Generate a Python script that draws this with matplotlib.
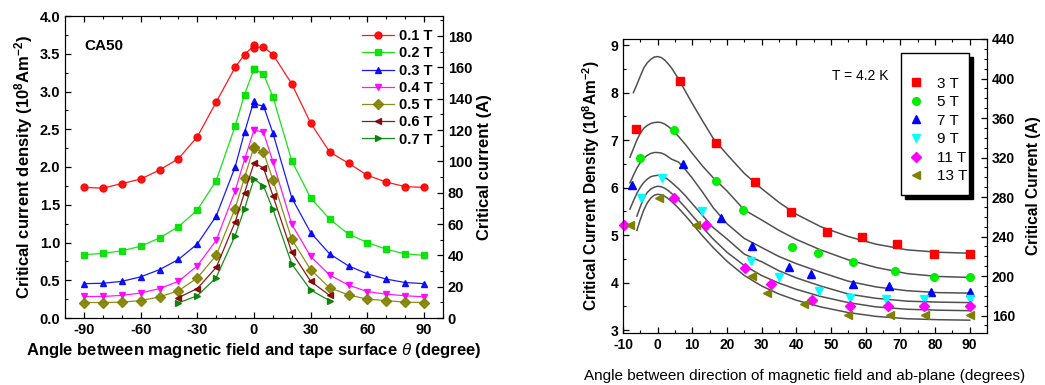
import numpy as np
import matplotlib
matplotlib.use('Agg')
import matplotlib.pyplot as plt
from matplotlib.ticker import MultipleLocator
from matplotlib.patches import Rectangle

plt.rcParams['font.family'] = ['Liberation Sans', 'DejaVu Sans']
plt.rcParams['mathtext.fontset'] = 'custom'
plt.rcParams['mathtext.rm'] = 'Liberation Sans'
plt.rcParams['mathtext.it'] = 'Liberation Sans:italic'
plt.rcParams['mathtext.bf'] = 'Liberation Sans:bold'
plt.rcParams['axes.unicode_minus'] = False

# ---- left panel: CA50 tape, Jc vs angle ----
ang = [-90, -80, -70, -60, -50, -40, -30, -20, -10, -5, 0, 0, 5, 10, 20, 30, 40, 50, 60, 70, 80, 90]
ang_short = [-40, -30, -20, -10, -5, 0, 5, 10, 20, 30, 40]
jc_01 = [1.73, 1.72, 1.78, 1.84, 1.96, 2.11, 2.40, 2.86, 3.32, 3.49, 3.61, 3.58, 3.59, 3.49, 3.10, 2.58, 2.20, 2.05, 1.89, 1.80, 1.74, 1.73]
jc_02 = [0.84, 0.855, 0.89, 0.95, 1.06, 1.21, 1.43, 1.82, 2.54, 2.96, 3.30, 3.30, 3.23, 2.93, 2.08, 1.59, 1.31, 1.11, 1.00, 0.91, 0.85, 0.83]
jc_03 = [0.455, 0.46, 0.485, 0.545, 0.64, 0.775, 0.98, 1.35, 2.00, 2.46, 2.88, 2.83, 2.81, 2.45, 1.59, 1.13, 0.85, 0.69, 0.585, 0.515, 0.47, 0.455]
jc_04 = [0.285, 0.285, 0.30, 0.33, 0.39, 0.485, 0.69, 1.03, 1.68, 2.10, 2.49, 2.49, 2.46, 2.07, 1.24, 0.815, 0.57, 0.435, 0.35, 0.315, 0.295, 0.28]
jc_05 = [0.205, 0.205, 0.21, 0.23, 0.28, 0.36, 0.53, 0.83, 1.45, 1.86, 2.27, 2.25, 2.20, 1.83, 1.04, 0.64, 0.40, 0.305, 0.25, 0.23, 0.21, 0.205]
jc_06 = [0.27, 0.39, 0.67, 1.27, 1.66, 2.05, 1.99, 1.62, 0.87, 0.485, 0.30]
jc_07 = [0.20, 0.295, 0.535, 1.09, 1.45, 1.84, 1.75, 1.44, 0.715, 0.37, 0.23]
left_labels = ['0.1 T', '0.2 T', '0.3 T', '0.4 T', '0.5 T', '0.6 T', '0.7 T']
left_colors = ['#ff0000', '#00e000', '#0000ff', '#ff00ff', '#808000', '#800000', '#008000']
left_markers = ['o', 's', '^', 'v', 'D', '<', '>']
amp_per_jc_left = 48.2

# ---- right panel: measured points ----
x_3T = [-6.2, 6.4, 16.9, 28.2, 38.4, 48.9, 58.8, 68.9, 79.8, 90]
y_3T = [7.23, 8.24, 6.93, 6.12, 5.48, 5.06, 4.97, 4.82, 4.61, 4.61]
x_5T = [-5.2, 4.6, 16.9, 24.7, 38.7, 46.2, 56.3, 68.6, 79.6, 90]
y_5T = [6.63, 7.21, 6.14, 5.54, 4.75, 4.63, 4.43, 4.25, 4.12, 4.12]
x_7T = [-7.3, 7.2, 18.2, 27.1, 38.0, 44.1, 56.3, 66.6, 78.8, 90]
y_7T = [6.05, 6.50, 5.37, 4.78, 4.33, 4.19, 3.98, 3.94, 3.81, 3.81]
x_9T = [-4.9, 1.2, 12.8, 26.8, 35.1, 46.4, 55.4, 66.0, 76.9, 90]
y_9T = [5.79, 6.20, 5.50, 4.46, 4.11, 3.83, 3.68, 3.65, 3.65, 3.65]
x_11T = [-9.7, 4.6, 14.0, 25.1, 32.7, 44.4, 55.6, 66.4, 76.9, 90]
y_11T = [5.22, 5.79, 5.21, 4.31, 3.98, 3.64, 3.51, 3.51, 3.51, 3.51]
x_13T = [-8.1, 0.4, 11.2, 27.3, 31.5, 42.3, 55.0, 66.9, 77.2, 90]
y_13T = [5.22, 5.78, 5.22, 4.13, 3.79, 3.55, 3.32, 3.32, 3.32, 3.32]
right_labels = ['3 T', '5 T', '7 T', '9 T', '11 T', '13 T']
right_colors = ['#ff0000', '#00ee00', '#0000ff', '#00ffff', '#ff00ff', '#808000']
right_markers = ['s', 'o', '^', 'v', 'D', '<']

# ---- right panel: fitted curves ----
fit_x = [-8, -7, -6, -5, -4, -3, -2, -1, 0, 1, 2, 3, 4, 6, 8, 10, 13, 16, 20, 25, 30, 35, 40, 47, 55, 63, 72, 81, 90]
nan = np.nan
fit_3T = [nan, 8.00, 8.17, 8.35, 8.52, 8.63, 8.70, 8.75, 8.76, 8.74, 8.69, 8.61, 8.52, 8.29, 8.03, 7.77, 7.40, 7.04, 6.70, 6.30, 5.98, 5.69, 5.44, 5.18, 4.97, 4.81, 4.69, 4.64, 4.62]
fit_5T = [6.64, 6.82, 7.00, 7.15, 7.25, 7.31, 7.35, 7.37, 7.38, 7.37, 7.34, 7.29, 7.23, 7.08, 6.91, 6.72, 6.45, 6.21, 5.93, 5.53, 5.32, 5.10, 4.91, 4.69, 4.48, 4.32, 4.19, 4.13, 4.11]
fit_7T = [6.10, 6.26, 6.41, 6.53, 6.62, 6.68, 6.72, 6.74, 6.74, 6.73, 6.70, 6.65, 6.60, 6.54, 6.38, 6.20, 5.90, 5.58, 5.24, 4.93, 4.74, 4.55, 4.40, 4.22, 4.03, 3.91, 3.83, 3.79, 3.78]
fit_9T = [5.55, 5.72, 5.88, 6.01, 6.11, 6.18, 6.23, 6.25, 6.26, 6.25, 6.22, 6.17, 6.11, 5.98, 5.83, 5.66, 5.41, 5.16, 4.92, 4.60, 4.44, 4.25, 4.10, 3.93, 3.76, 3.67, 3.61, 3.59, 3.58]
fit_11T = [nan, nan, 5.40, 5.60, 5.78, 5.90, 5.97, 6.01, 6.03, 6.02, 5.99, 5.94, 5.88, 5.74, 5.58, 5.41, 5.16, 4.92, 4.64, 4.36, 4.15, 3.99, 3.86, 3.71, 3.58, 3.49, 3.44, 3.42, 3.41]
fit_13T = [nan, nan, 5.10, 5.33, 5.53, 5.68, 5.78, 5.84, 5.86, 5.85, 5.82, 5.77, 5.71, 5.57, 5.41, 5.24, 4.98, 4.74, 4.45, 4.15, 3.93, 3.76, 3.63, 3.49, 3.37, 3.29, 3.24, 3.22, 3.21]

W, H = 1045, 385
fig = plt.figure(figsize=(W / 100, H / 100), dpi=100)


def px_axes(l, t, r, b):
    return fig.add_axes([l / W, 1 - b / H, (r - l) / W, (b - t) / H])


# ================= left chart =================
ax1 = px_axes(65, 16, 443, 318)
left_series = [(ang, jc_01), (ang, jc_02), (ang, jc_03), (ang, jc_04), (ang, jc_05),
               (ang_short, jc_06), (ang_short, jc_07)]
for (xs, ys), lab, c, m in zip(left_series, left_labels, left_colors, left_markers):
    ax1.plot(xs, ys, color=c, lw=0.9, marker=m, ms=5, mec=c, mfc=c, label=lab, alpha=0.9)

ax1.set_xlim(-100, 100)
ax1.set_ylim(0, 4.0)
ax1.xaxis.set_major_locator(MultipleLocator(30))
ax1.xaxis.set_minor_locator(MultipleLocator(10))
ax1.yaxis.set_minor_locator(MultipleLocator(0.25))
ax1.set_yticks(np.arange(0, 4.01, 0.5))
ax1.set_yticklabels(['%.1f' % v for v in np.arange(0, 4.01, 0.5)])
ax1.tick_params(which='both', direction='in', top=True, right=False, labelsize=10.5)
ax1.tick_params(which='major', length=4, width=0.9)
ax1.tick_params(which='minor', length=2.5, width=0.8)
for lbl in ax1.get_xticklabels() + ax1.get_yticklabels():
    lbl.set_fontweight('bold')
ax1.set_xlabel(r'Angle between magnetic field and tape surface $\theta$ (degree)',
               fontsize=12, fontweight='bold', labelpad=3)
ax1.set_ylabel(r'Critical current density (10$^{\mathbf{8}}$Am$^{\mathbf{-2}}$)',
               fontsize=12, fontweight='bold', labelpad=3)
ax1.text(0.05, 0.90, 'CA50', transform=ax1.transAxes, fontsize=11, fontweight='bold',
         ha='left', va='center')
leg1 = ax1.legend(loc='upper right', frameon=False, fontsize=10.5, handlelength=2.2,
                  labelspacing=0.22, handletextpad=0.3, borderaxespad=0.2,
                  bbox_to_anchor=(0.995, 0.985))
for t in leg1.get_texts():
    t.set_fontweight('bold')

ax1r = ax1.twinx()
ax1r.set_ylim(0, 4.0 * amp_per_jc_left)
ax1r.yaxis.set_major_locator(MultipleLocator(20))
ax1r.yaxis.set_minor_locator(MultipleLocator(10))
ax1r.tick_params(which='both', direction='in', labelsize=10.5)
ax1r.tick_params(which='major', length=4, width=0.9)
ax1r.tick_params(which='minor', length=2.5, width=0.8)
for lbl in ax1r.get_yticklabels():
    lbl.set_fontweight('bold')
ax1r.set_ylabel('Critical current (A)', fontsize=12, fontweight='bold', labelpad=3)

# ================= right chart =================
ax2 = px_axes(623, 39, 987, 333)
fits = [fit_3T, fit_5T, fit_7T, fit_9T, fit_11T, fit_13T]
for f in fits:
    ax2.plot(fit_x, f, color='#505050', lw=1.1, zorder=2)
pts = [(x_3T, y_3T), (x_5T, y_5T), (x_7T, y_7T), (x_9T, y_9T), (x_11T, y_11T), (x_13T, y_13T)]
handles = []
for (xs, ys), lab, c, m in zip(pts, right_labels, right_colors, right_markers):
    ms = 5.5 if m != 'D' else 5
    h, = ax2.plot(xs, ys, ls='none', marker=m, ms=ms, color=c, mec=c, label=lab,
                  zorder=3, clip_on=False)
    handles.append(h)

ax2.set_xlim(-10, 95)
ax2.set_ylim(2.94, 9.13)
ax2.xaxis.set_major_locator(MultipleLocator(10))
ax2.xaxis.set_minor_locator(MultipleLocator(5))
ax2.yaxis.set_major_locator(MultipleLocator(1))
ax2.yaxis.set_minor_locator(MultipleLocator(0.5))
ax2.tick_params(which='both', direction='in', top=True, right=False, labelsize=10)
ax2.tick_params(which='major', length=4, width=0.9)
ax2.tick_params(which='minor', length=2.5, width=0.8)
for lbl in ax2.get_xticklabels() + ax2.get_yticklabels():
    lbl.set_fontweight('bold')
ax2.set_ylabel(r'Critical Current Density (10$^{\mathbf{8}}$Am$^{\mathbf{-2}}$)',
               fontsize=11.2, fontweight='bold', labelpad=6)
ax2.set_xlabel('Angle between direction of magnetic field and ab-plane (degrees)',
               fontsize=11, labelpad=12)
ax2.text(0.575, 0.875, 'T = 4.2 K', transform=ax2.transAxes, fontsize=10,
         ha='left', va='center')

# legend box with solid black drop shadow
bx0, bx1 = (901 - 623) / 364, (969 - 623) / 364
by0, by1 = (333 - 195) / 294, (333 - 53) / 294
ax2.add_patch(Rectangle((bx0 + 4 / 364, by0 - 4 / 294), bx1 - bx0, by1 - by0,
                        transform=ax2.transAxes, fc='black', ec='black', zorder=4, clip_on=False))
ax2.add_patch(Rectangle((bx0, by0), bx1 - bx0, by1 - by0, transform=ax2.transAxes,
                        fc='white', ec='black', lw=1, zorder=5, clip_on=False))
leg2 = ax2.legend(handles=handles, loc='upper left', frameon=False, fontsize=11,
                  bbox_to_anchor=(bx0 + 0.02, by1 - 0.08), labelspacing=0.3,
                  handlelength=1.0, handletextpad=0.9, borderaxespad=0, borderpad=0)
leg2.set_zorder(6)

ax2r = ax2.twinx()
ax2r.set_ylim(142.4, 440)
ax2r.yaxis.set_major_locator(MultipleLocator(40))
ax2r.yaxis.set_minor_locator(MultipleLocator(10))
ax2r.tick_params(which='both', direction='in', labelsize=10)
ax2r.tick_params(which='major', length=4, width=0.9)
ax2r.tick_params(which='minor', length=2.5, width=0.8)
for lbl in ax2r.get_yticklabels():
    lbl.set_fontweight('bold')
ax2r.set_ylabel('Critical Current (A)', fontsize=11.2, fontweight='bold', labelpad=8)

fig.savefig('out.png', dpi=100)
